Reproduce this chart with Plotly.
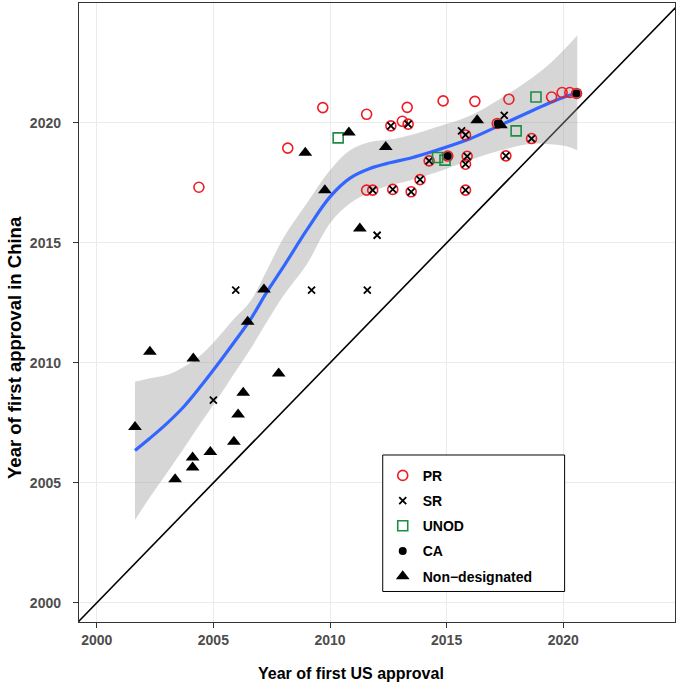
import plotly.graph_objects as go

# ---------------- data ----------------
PR_x = [2004.38, 2008.19, 2009.69, 2011.57, 2013.10, 2013.31, 2014.85, 2016.21, 2017.67,
        2019.50, 2019.95, 2020.28, 2011.57,
        2020.57, 2017.17, 2015.05,
        2012.61, 2013.35, 2015.81, 2011.83, 2012.69, 2013.48, 2013.86, 2014.25,
        2015.88, 2015.81, 2015.81, 2018.64, 2017.54]
PR_y = [2017.32, 2018.95, 2020.64, 2020.36, 2020.07, 2020.65, 2020.92, 2020.90, 2020.99,
        2021.08, 2021.27, 2021.27, 2017.20,
        2021.23, 2019.98, 2018.62,
        2019.88, 2019.95, 2019.50, 2017.20, 2017.23, 2017.13, 2017.64, 2018.42,
        2018.61, 2018.28, 2017.20, 2019.35, 2018.63]

SR_x = [2012.61, 2013.35, 2015.81, 2011.83, 2012.69, 2013.48, 2013.86, 2014.25,
        2015.88, 2015.81, 2015.81, 2018.64, 2017.54,
        2015.64, 2017.47, 2012.02, 2005.96, 2009.21, 2011.60, 2005.00]
SR_y = [2019.88, 2019.95, 2019.50, 2017.20, 2017.23, 2017.13, 2017.64, 2018.42,
        2018.61, 2018.28, 2017.20, 2019.35, 2018.63,
        2019.67, 2020.32, 2015.32, 2013.03, 2013.03, 2013.03, 2008.45]

UNOD_x = [2010.35, 2014.61, 2014.93, 2018.83, 2017.98]
UNOD_y = [2019.38, 2018.56, 2018.45, 2021.08, 2019.67]

CA_x = [2020.57, 2017.19, 2015.05]
CA_y = [2021.23, 2019.98, 2018.62]

ND_x = [2010.81, 2008.94, 2012.39, 2009.78, 2011.28, 2016.31, 2017.33, 2007.17, 2006.47,
        2002.28, 2004.14, 2007.80, 2006.28, 2006.06, 2001.64, 2005.88, 2004.87, 2004.11,
        2004.11, 2003.36]
ND_y = [2019.60, 2018.76, 2019.00, 2017.20, 2015.60, 2020.11, 2019.90, 2013.06, 2011.71,
        2010.46, 2010.18, 2009.56, 2008.75, 2007.85, 2007.33, 2006.71, 2006.29, 2006.06,
        2005.64, 2005.15]

# loess fit and its confidence band
fit_x = [2001.64, 2002.28, 2003.00, 2003.71, 2004.43, 2005.14, 2005.85, 2006.57, 2007.29,
         2008.00, 2009.00, 2010.00, 2010.86, 2011.71, 2012.57, 2013.43, 2014.57, 2016.00,
         2017.28, 2018.71, 2019.43, 2020.14, 2020.60]
fit_y = [2006.35, 2006.86, 2007.47, 2008.15, 2008.99, 2009.88, 2010.81, 2011.78, 2012.95,
         2014.00, 2015.53, 2016.92, 2017.70, 2018.10, 2018.34, 2018.53, 2018.86, 2019.34,
         2019.90, 2020.53, 2020.84, 2021.11, 2021.25]
fit_hi = [2009.21, 2009.36, 2009.49, 2009.82, 2010.30, 2011.00, 2011.80, 2012.55, 2013.85,
          2015.20, 2016.64, 2018.03, 2018.86, 2019.21, 2019.31, 2019.49, 2019.83, 2020.30,
          2021.00, 2021.92, 2022.48, 2023.17, 2023.65]
fit_lo = [2003.45, 2004.40, 2005.40, 2006.40, 2007.45, 2008.45, 2009.50, 2010.55, 2011.70,
          2012.80, 2014.10, 2015.82, 2016.65, 2017.10, 2017.40, 2017.60, 2017.95, 2018.45,
          2018.85, 2019.14, 2019.11, 2019.03, 2018.86]

identity = [1995, 2030]

x_ticks = [2000, 2005, 2010, 2015, 2020]
y_ticks = [2000, 2005, 2010, 2015, 2020]

x_title = "Year of first US approval"
y_title = "Year of first approval in China"

# ---------------- figure ----------------
fig = go.Figure()

fig.add_trace(go.Scatter(x=identity, y=identity, mode="lines",
                         line=dict(color="black", width=1.6),
                         showlegend=False, hoverinfo="skip"))

fig.add_trace(go.Scatter(x=fit_x, y=fit_hi, mode="lines", line=dict(width=0, shape="spline"),
                         showlegend=False, hoverinfo="skip"))
fig.add_trace(go.Scatter(x=fit_x, y=fit_lo, mode="lines", line=dict(width=0, shape="spline"),
                         fill="tonexty", fillcolor="rgba(153,153,153,0.4)",
                         showlegend=False, hoverinfo="skip"))
fig.add_trace(go.Scatter(x=fit_x, y=fit_y, mode="lines",
                         line=dict(color="#3366FF", width=3.2, shape="spline"),
                         showlegend=False, hoverinfo="skip"))

fig.add_trace(go.Scatter(x=PR_x, y=PR_y, mode="markers", name="PR", legendgroup="a",
                         marker=dict(symbol="circle-open", size=10, color="#EE1C25",
                                     line=dict(width=1.6, color="#EE1C25"))))
fig.add_trace(go.Scatter(x=SR_x, y=SR_y, mode="markers", name="SR", legendgroup="b",
                         marker=dict(symbol="x-thin-open", size=7, color="black",
                                     line=dict(width=1.8, color="black"))))
fig.add_trace(go.Scatter(x=UNOD_x, y=UNOD_y, mode="markers", name="UNOD", legendgroup="c",
                         marker=dict(symbol="square-open", size=10, color="#1E8C45",
                                     line=dict(width=1.6, color="#1E8C45"))))
fig.add_trace(go.Scatter(x=CA_x, y=CA_y, mode="markers", name="CA", legendgroup="d",
                         marker=dict(symbol="circle", size=8, color="black")))
fig.add_trace(go.Scatter(x=ND_x, y=ND_y, mode="markers", name="Non\u2212designated",
                         legendgroup="e",
                         marker=dict(symbol="triangle-up", size=12, color="black")))

axis_common = dict(
    showgrid=True, gridcolor="#EBEBEB", gridwidth=1.2, zeroline=False,
    showline=True, linecolor="#333333", linewidth=1.4, mirror=True,
    ticks="outside", ticklen=5, tickcolor="#333333", tickwidth=1.2,
    automargin=False,
    tickfont=dict(family="Liberation Sans, Arial", size=14, color="#4D4D4D", weight="bold"),
)

fig.update_layout(
    width=684, height=685,
    margin=dict(l=79, r=9, t=3, b=63),
    paper_bgcolor="white", plot_bgcolor="white",
    font=dict(family="Liberation Sans, Arial", color="black"),
    xaxis=dict(range=[1999.24, 2024.79], tickvals=x_ticks, **axis_common),
    yaxis=dict(range=[1999.2, 2025.0], tickvals=y_ticks, ticklabelstandoff=9,
               **axis_common),
    legend=dict(x=0.5096, y=0.262, xanchor="left", yanchor="top",
                bgcolor="rgba(0,0,0,0)", borderwidth=0,
                tracegroupgap=4,
                font=dict(size=14, color="black", weight="bold")),
    shapes=[dict(type="rect", xref="paper", yref="paper",
                 x0=0.5096, x1=0.8148, y0=0.0493, y1=0.2698,
                 line=dict(color="black", width=1), fillcolor="white", layer="above")],
    annotations=[
        dict(text="<b>" + x_title + "</b>", xref="paper", yref="paper",
             x=0.456, y=-0.084, xanchor="center", yanchor="middle", showarrow=False,
             font=dict(size=16, color="black")),
        dict(text="<b>" + y_title + "</b>", xref="paper", yref="paper",
             x=-0.1074, y=0.4443, xanchor="center", yanchor="middle", showarrow=False,
             textangle=-90, font=dict(size=18.5, color="black")),
    ],
)

fig.write_html("out.html", config={"displayModeBar": False},
               post_script="document.body.style.margin='0px';")
